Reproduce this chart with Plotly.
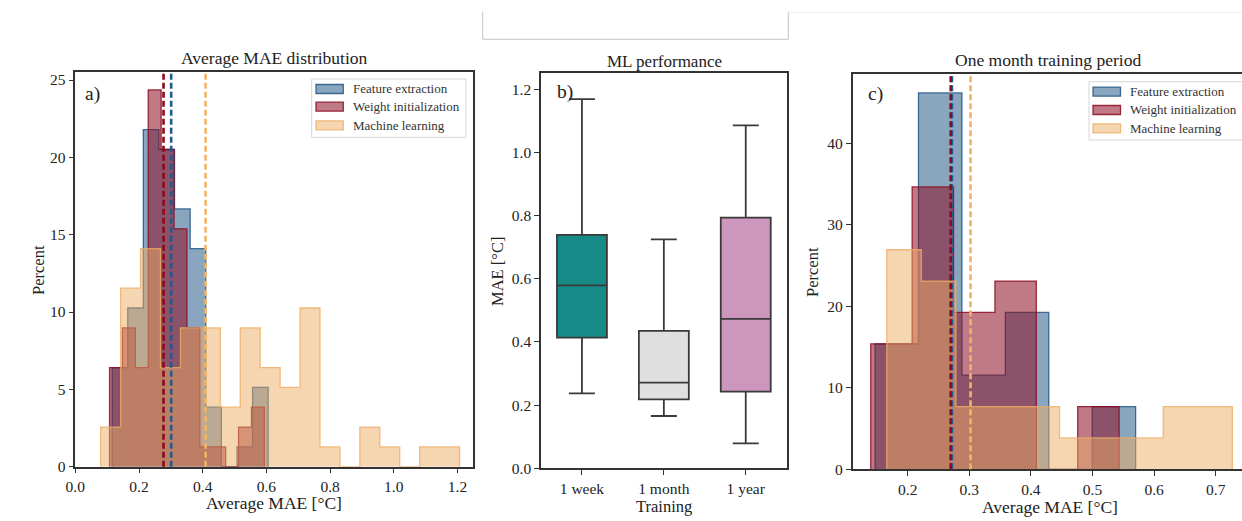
import plotly.graph_objects as go

W, H = 1242, 521
FONT = "Liberation Serif"

# ---------------- data ----------------
# Panel a: average MAE distribution (percent per bin)
a_fe_start, a_fe_width = 0.1156, 0.049
a_fe_pct = [6.41, 10.26, 21.79, 20.51, 16.67, 14.10, 3.85, 0.0, 1.28, 5.13]
a_wi_start, a_wi_width = 0.1075, 0.0405
a_wi_pct = [6.41, 8.97, 6.41, 24.36, 20.51, 15.38, 8.97, 1.28, 1.28, 0.0, 2.56, 3.85]
a_ml_start, a_ml_width = 0.0797, 0.0626
a_ml_pct = [2.56, 11.54, 14.10, 6.41, 8.97, 8.97, 3.85, 8.97, 6.41, 5.13, 10.26,
            1.28, 0.0, 2.56, 1.28, 0.0, 1.28, 1.28]
a_means = [0.301, 0.277, 0.409]  # FE, WI, ML

# Panel b: ML performance box plot
b_cats = ["1 week", "1 month", "1 year"]
b_low = [0.2375, 0.1656, 0.079]
b_q1 = [0.414, 0.2185, 0.2426]
b_med = [0.579, 0.271, 0.473]
b_q3 = [0.739, 0.435, 0.7936]
b_high = [1.169, 0.725, 1.086]

# Panel c: one month training period
c_fe_start, c_fe_width = 0.147, 0.0705
c_fe_pct = [15.38, 46.15, 11.54, 19.23, 0.0, 7.69]
c_wi_start, c_wi_width = 0.140, 0.0672
c_wi_pct = [15.38, 34.62, 19.23, 23.08, 0.0, 7.69]
c_ml_start, c_ml_width = 0.166, 0.0561
c_ml_pct = [26.92, 23.08, 7.69, 7.69, 7.69, 3.85, 3.85, 3.85, 7.69, 7.69]
c_means = [0.2718, 0.2698, 0.302]

series_names = ["Feature extraction", "Weight initialization", "Machine learning"]

# ---------------- styles ----------------
FILL = ["rgba(22,78,128,0.5)", "rgba(140,12,34,0.55)", "rgba(238,172,100,0.5)"]
EDGE = ["rgba(22,78,128,0.8)", "rgba(140,12,34,0.85)", "rgba(238,172,100,0.8)"]
MEAN = ["#1f5b8e", "#8b0a1e", "#f0b468"]
BOX_FILL = ["#168a86", "#e0dfe0", "#cd96bd"]
AX = "#333333"


def px_x(p):
    return p / W


def px_y(p):
    return 1 - p / H


def step_poly(start, width, pct):
    xs, ys = [start], [0]
    for i, h in enumerate(pct):
        e0 = start + i * width
        e1 = start + (i + 1) * width
        xs += [e0, e1]
        ys += [h, h]
    xs.append(start + len(pct) * width)
    ys.append(0)
    return xs, ys


fig = go.Figure()

# Panel a histograms
for i, (s, w, p) in enumerate([(a_fe_start, a_fe_width, a_fe_pct),
                               (a_wi_start, a_wi_width, a_wi_pct),
                               (a_ml_start, a_ml_width, a_ml_pct)]):
    xs, ys = step_poly(s, w, p)
    fig.add_trace(go.Scatter(x=xs, y=ys, mode="lines", fill="toself",
                             fillcolor=FILL[i], line=dict(color=EDGE[i], width=1.3),
                             xaxis="x", yaxis="y", showlegend=False, hoverinfo="skip"))

# Panel c histograms
for i, (s, w, p) in enumerate([(c_fe_start, c_fe_width, c_fe_pct),
                               (c_wi_start, c_wi_width, c_wi_pct),
                               (c_ml_start, c_ml_width, c_ml_pct)]):
    xs, ys = step_poly(s, w, p)
    fig.add_trace(go.Scatter(x=xs, y=ys, mode="lines", fill="toself",
                             fillcolor=FILL[i], line=dict(color=EDGE[i], width=1.3),
                             xaxis="x3", yaxis="y3", showlegend=False, hoverinfo="skip"))

# Panel b boxes
for i, c in enumerate(b_cats):
    fig.add_trace(go.Box(x=[c], q1=[b_q1[i]], median=[b_med[i]], q3=[b_q3[i]],
                         lowerfence=[b_low[i]], upperfence=[b_high[i]],
                         fillcolor=BOX_FILL[i], line=dict(color="#3a3a3a", width=1.8),
                         width=0.61, whiskerwidth=0.52, boxpoints=False,
                         xaxis="x2", yaxis="y2", showlegend=False, hoverinfo="skip"))

shapes = []
# mean lines
for i, m in enumerate(a_means):
    shapes.append(dict(type="line", xref="x", yref="y domain", x0=m, x1=m, y0=0, y1=1,
                       line=dict(color=MEAN[i], width=2.6, dash="6px,3px"), layer="above"))
for i, m in enumerate(c_means):
    shapes.append(dict(type="line", xref="x3", yref="y3 domain", x0=m, x1=m, y0=0, y1=1,
                       line=dict(color=MEAN[i], width=2.6, dash="6px,3px"), layer="above"))

annotations = []


def legend_box(x0, y0, x1, y1, patch_x0, patch_x1, text_x, rows):
    shapes.append(dict(type="rect", xref="paper", yref="paper",
                       x0=px_x(x0), x1=px_x(x1), y0=px_y(y1), y1=px_y(y0),
                       line=dict(color="#d6d6d6", width=1), fillcolor="rgba(255,255,255,0.85)",
                       layer="above"))
    for i, ry in enumerate(rows):
        shapes.append(dict(type="rect", xref="paper", yref="paper",
                           x0=px_x(patch_x0), x1=px_x(patch_x1),
                           y0=px_y(ry + 4.5), y1=px_y(ry - 4.5),
                           line=dict(color=EDGE[i], width=1.3), fillcolor=FILL[i], layer="above"))
        annotations.append(dict(text=series_names[i], xref="paper", yref="paper",
                                x=px_x(text_x), y=px_y(ry), xanchor="left", yanchor="middle",
                                showarrow=False, font=dict(family=FONT, size=13, color="#333")))


legend_box(311.7, 79, 466, 137.3, 316, 343.3, 351, [89, 106.7, 125.3])
legend_box(1089, 81.7, 1250, 140, 1093, 1120.5, 1128, [91.7, 110, 128.3])

# top decorative empty box
shapes.append(dict(type="path", xref="paper", yref="paper",
                   path=f"M {px_x(482.7)},{px_y(11.5)} L {px_x(482.7)},{px_y(39.3)} "
                        f"L {px_x(788.3)},{px_y(39.3)} L {px_x(788.3)},{px_y(11.5)}",
                   line=dict(color="#c4c4c4", width=1)))
shapes.append(dict(type="line", xref="paper", yref="paper",
                   x0=px_x(788.3), x1=1, y0=px_y(12.5), y1=px_y(12.5),
                   line=dict(color="#f0f0f0", width=1)))


def text(t, x, y, size=17, angle=0, xanchor="center"):
    annotations.append(dict(text=t, xref="paper", yref="paper", x=px_x(x), y=px_y(y),
                            xanchor=xanchor, yanchor="middle", showarrow=False, textangle=angle,
                            font=dict(family=FONT, size=size, color="#222")))


# titles
text("Average MAE distribution", 274, 58, size=17.5)
text("ML performance", 664, 61, size=17)
text("One month training period", 1048, 60, size=17.5)
# axis titles
text("Average MAE [°C]", 274, 503, size=17.5)
text("Training", 664, 506, size=16.5)
text("Average MAE [°C]", 1050, 507, size=17.5)
text("Percent", 38, 270, size=16.5, angle=-90)
text("MAE [°C]", 497, 272, size=16.5, angle=-90)
text("Percent", 812, 272, size=16.5, angle=-90)
# panel labels
text("a)", 83, 94, size=19.5, xanchor="left")
text("b)", 555, 92, size=19.5, xanchor="left")
text("c)", 866, 94, size=19.5, xanchor="left")

axis_common = dict(showline=True, mirror=True, linecolor=AX, linewidth=1.5,
                   ticks="outside", ticklen=5, tickwidth=1.3, tickcolor=AX,
                   showgrid=False, zeroline=False, automargin=False,
                   tickfont=dict(family=FONT, size=15.5, color="#222"))

fig.update_layout(
    width=W, height=H, margin=dict(l=0, r=0, t=0, b=0, pad=0), autosize=False,
    paper_bgcolor="white", plot_bgcolor="white", showlegend=False,
    xaxis=dict(domain=[px_x(75.3), px_x(472.7)], range=[0, 1.2477],
               tickvals=[0, 0.2, 0.4, 0.6, 0.8, 1.0, 1.2], tickformat=".1f",
               anchor="y", **axis_common),
    yaxis=dict(domain=[px_y(466.7), px_y(71.7)], range=[0, 25.54],
               tickvals=[0, 5, 10, 15, 20, 25], anchor="x", **axis_common),
    xaxis2=dict(domain=[px_x(541), px_x(786.7)], range=[-0.5, 2.5], type="category",
                categoryorder="array", categoryarray=b_cats, anchor="y2", **axis_common),
    yaxis2=dict(domain=[px_y(468.3), px_y(72.7)], range=[0, 1.2526],
                tickvals=[0, 0.2, 0.4, 0.6, 0.8, 1.0, 1.2], tickformat=".1f",
                anchor="x2", **axis_common),
    xaxis3=dict(domain=[px_x(852.7), 1.0], range=[0.1107, 0.7427],
                tickvals=[0.2, 0.3, 0.4, 0.5, 0.6, 0.7], tickformat=".1f",
                anchor="y3", **axis_common),
    yaxis3=dict(domain=[px_y(469.3), px_y(74)], range=[0, 48.47],
                tickvals=[0, 10, 20, 30, 40], anchor="x3", **axis_common),
    shapes=shapes, annotations=annotations,
)

fig.write_html("out.html")
